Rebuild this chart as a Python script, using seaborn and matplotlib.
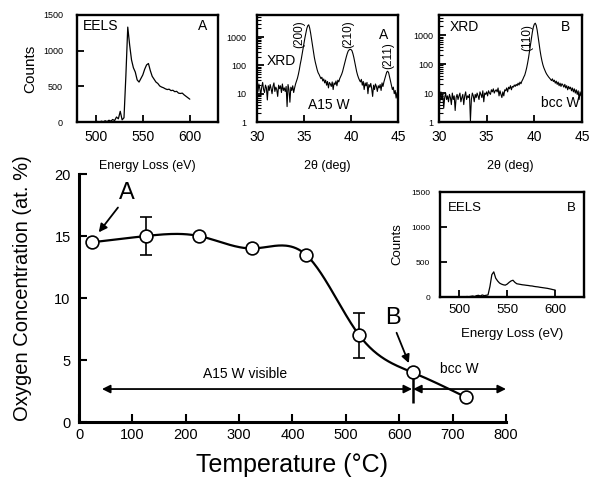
import numpy as np
import pandas as pd
import seaborn as sns
import matplotlib.pyplot as plt
from matplotlib.ticker import NullFormatter

# main plot: oxygen content vs annealing temperature
temps = [25, 125, 225, 325, 425, 525, 625, 725]
oxygen = [14.5, 15.0, 15.0, 14.0, 13.5, 7.0, 4.0, 2.0]
oxygen_err = [0, 1.5, 0, 0, 0, 1.8, 0, 0]

phase_boundary = 625
a15_span = (43, 624)
bcc_span = (626, 800)
arrow_y = 2.66

# EELS spectra (2 eV steps, 480..600 eV)
eels_energy = list(range(480, 602, 2))
eels_a = [0, 0, 0, 0, 0, 0, 0, 0, 0, 0,
          0, 8, 0, 12, 3, 18, 5, 25, 12, 35,
          20, 70, 45, 150, 30, 60, 650, 1330, 1080, 870,
          760, 700, 590, 560, 610, 660, 740, 800, 820, 720,
          640, 600, 560, 540, 505, 490, 480, 465, 455, 460,
          440, 445, 425, 430, 405, 400, 405, 380, 360, 340,
          320]
eels_b = [0, 0, 0, 0, 0, 0, 0, 0, 0, 0,
          0, 0, 5, 0, 8, 5, 10, 15, 8, 20,
          25, 15, 30, 20, 25, 30, 150, 320, 360, 270,
          230, 200, 185, 175, 170, 185, 210, 230, 240, 210,
          190, 185, 180, 175, 172, 168, 165, 160, 158, 152,
          148, 145, 140, 136, 132, 128, 124, 118, 112, 105,
          100]

# XRD patterns (0.1 deg steps, 30..45 deg)
two_theta = np.round(np.linspace(30, 45, 151), 1)
xrd_a = [18, 12, 22, 15, 9, 17, 25, 14, 11, 20,
         16, 6, 19, 13, 21, 15, 10, 18, 24, 12,
         17, 14, 8, 20, 15, 19, 11, 22, 13, 16,
         12, 18, 3.5, 21, 14, 5, 17, 13, 19, 11,
         16, 22, 28, 35, 48, 70, 110, 160, 250, 400,
         620, 950, 1400, 2000, 2500, 2700, 2100, 1400, 850, 500,
         300, 190, 130, 95, 70, 55, 48, 40, 34, 38,
         28, 33, 24, 30, 20, 27, 16, 25, 22, 18,
         26, 14, 24, 21, 28, 19, 30, 26, 34, 40,
         48, 60, 80, 110, 150, 200, 260, 320, 350, 370,
         360, 330, 260, 190, 130, 85, 60, 45, 36, 30,
         26, 32, 20, 27, 14, 24, 19, 25, 10, 21,
         17, 23, 15, 8, 20, 14, 22, 18, 12, 19,
         16, 21, 13, 24, 18, 26, 34, 45, 58, 62,
         55, 40, 28, 20, 14, 17, 10, 13, 7, 11,
         9]
xrd_b = [8, 5, 11, 6, 9, 3, 7, 10, 6, 8,
         5, 9, 7, 4, 10, 6, 8, 2.5, 7, 9,
         6, 8, 10, 5, 7, 9, 4, 8, 11, 6,
         8, 7, 9, 1.1, 6, 10, 8, 5, 9, 7,
         10, 8, 6, 11, 9, 7, 12, 5, 10, 9,
         11, 8, 12, 10, 9, 13, 11, 14, 10, 12,
         13, 11, 15, 8, 12, 9, 7, 11, 8, 13,
         12, 15, 11, 16, 14, 18, 13, 17, 16, 19,
         17, 20, 18, 22, 19, 24, 21, 26, 30, 36,
         42, 55, 75, 110, 170, 280, 480, 800, 1300, 1900,
         2400, 2600, 2200, 1500, 900, 520, 300, 190, 130, 95,
         75, 62, 52, 45, 40, 36, 33, 30, 27, 31,
         25, 28, 22, 26, 20, 24, 18, 22, 17, 21,
         19, 16, 20, 15, 18, 13, 17, 14, 16, 12,
         15, 11, 14, 10, 13, 9, 12, 6, 11, 8,
         10]


def natural_spline(x, y, xs):
    x = np.asarray(x, float)
    y = np.asarray(y, float)
    n = len(x)
    h = np.diff(x)
    A = np.zeros((n, n))
    b = np.zeros(n)
    A[0, 0] = A[-1, -1] = 1
    for i in range(1, n - 1):
        A[i, i - 1] = h[i - 1]
        A[i, i] = 2 * (h[i - 1] + h[i])
        A[i, i + 1] = h[i]
        b[i] = 3 * ((y[i + 1] - y[i]) / h[i] - (y[i] - y[i - 1]) / h[i - 1])
    c = np.linalg.solve(A, b)
    bb = (y[1:] - y[:-1]) / h - h * (2 * c[:-1] + c[1:]) / 3
    d = (c[1:] - c[:-1]) / (3 * h)
    idx = np.clip(np.searchsorted(x, xs) - 1, 0, n - 2)
    dx = xs - x[idx]
    return y[idx] + bb[idx] * dx + c[idx] * dx ** 2 + d[idx] * dx ** 3


sns.set_style("ticks", {"xtick.direction": "in", "ytick.direction": "in"})
plt.rcParams['font.family'] = ['Liberation Sans', 'DejaVu Sans']
plt.rcParams.update({'axes.linewidth': 1.6, 'text.color': 'black', 'axes.labelcolor': 'black',
                     'xtick.color': 'black', 'ytick.color': 'black', 'axes.edgecolor': 'black'})

fig = plt.figure(figsize=(5.9, 4.91), dpi=100)


def style_box(ax, ylab_size=6.5):
    for s in ax.spines.values():
        s.set_linewidth(1.7)
        s.set_color('black')
    ax.tick_params(axis='x', which='major', length=5, width=1.3, labelsize=10, pad=6)
    ax.tick_params(axis='y', which='major', length=5, width=1.3, labelsize=ylab_size)
    ax.tick_params(axis='y', which='minor', length=3, width=0.8)


# ---- top left: EELS A
ax1 = fig.add_axes([0.1305, 0.7515, 0.239, 0.218])
sns.lineplot(x=eels_energy, y=eels_a, ax=ax1, color='black', linewidth=0.9)
ax1.set_xlim(480, 630)
ax1.set_ylim(0, 1500)
ax1.set_xticks([500, 550, 600])
ax1.set_yticks([0, 500, 1000, 1500])
style_box(ax1)
ax1.tick_params(axis='y', pad=10)
ax1.set_xlabel("Energy Loss (eV)", fontsize=9, labelpad=11)
ax1.set_ylabel("Counts", fontsize=11, labelpad=4)
ax1.text(0.04, 0.9, "EELS", transform=ax1.transAxes, fontsize=10, va='center')
ax1.text(0.92, 0.9, "A", transform=ax1.transAxes, fontsize=10, va='center', ha='right')

# ---- top middle: XRD A
ax2 = fig.add_axes([0.4356, 0.7515, 0.239, 0.218])
sns.lineplot(x=two_theta, y=xrd_a, ax=ax2, color='black', linewidth=0.8)
ax2.set_yscale('log')
ax2.set_xlim(30, 45)
ax2.set_ylim(1, 6000)
ax2.set_xticks([30, 35, 40, 45])
ax2.set_yticks([1, 10, 100, 1000])
ax2.set_yticklabels(['1', '10', '100', '1000'])
ax2.yaxis.set_minor_formatter(NullFormatter())
style_box(ax2)
ax2.tick_params(axis='y', pad=8)
ax2.set_xlabel("2θ (deg)", fontsize=9, labelpad=11)
ax2.set_ylabel("")
ax2.text(0.07, 0.57, "XRD", transform=ax2.transAxes, fontsize=10, va='center')
ax2.text(0.93, 0.81, "A", transform=ax2.transAxes, fontsize=10, va='center', ha='right')
ax2.text(0.51, 0.16, "A15 W", transform=ax2.transAxes, fontsize=10, va='center', ha='center')
for lab, pos, yy in [("(200)", 34.5, 0.82), ("(210)", 39.7, 0.82), ("(211)", 44.0, 0.62)]:
    ax2.text(pos, yy, lab, transform=ax2.get_xaxis_transform(), rotation=90,
             fontsize=8.5, ha='center', va='center')

# ---- top right: XRD B
ax3 = fig.add_axes([0.744, 0.7515, 0.2424, 0.218])
sns.lineplot(x=two_theta, y=xrd_b, ax=ax3, color='black', linewidth=0.8)
ax3.set_yscale('log')
ax3.set_xlim(30, 45)
ax3.set_ylim(1, 5000)
ax3.set_xticks([30, 35, 40, 45])
ax3.set_yticks([1, 10, 100, 1000])
ax3.set_yticklabels(['1', '10', '100', '1000'])
ax3.yaxis.set_minor_formatter(NullFormatter())
style_box(ax3)
ax3.tick_params(axis='y', pad=4)
ax3.set_xlabel("2θ (deg)", fontsize=9, labelpad=11)
ax3.set_ylabel("")
ax3.text(0.077, 0.89, "XRD", transform=ax3.transAxes, fontsize=10, va='center')
ax3.text(0.916, 0.89, "B", transform=ax3.transAxes, fontsize=10, va='center', ha='right')
ax3.text(0.85, 0.18, "bcc W", transform=ax3.transAxes, fontsize=10, va='center', ha='center')
ax3.text(39.3, 0.79, "(110)", transform=ax3.get_xaxis_transform(), rotation=90,
         fontsize=8.5, ha='center', va='center')

# ---- main plot
ax = fig.add_axes([0.1339, 0.1405, 0.7237, 0.505])
curve_t = np.linspace(temps[0], temps[-1], 300)
curve = pd.DataFrame({"t": curve_t, "o": natural_spline(temps, oxygen, curve_t)})
sns.lineplot(data=curve, x="t", y="o", ax=ax, color='black', linewidth=1.6, zorder=2)
mask = np.array(oxygen_err) > 0
ax.errorbar(np.array(temps)[mask], np.array(oxygen)[mask], yerr=np.array(oxygen_err)[mask],
            fmt='none', ecolor='black', elinewidth=1.2, capsize=4, capthick=1.2, zorder=2)
sns.scatterplot(x=temps, y=oxygen, ax=ax, s=85, color='white', edgecolor='black',
                linewidth=1.2, zorder=3)
ax.set_xlim(0, 800)
ax.set_ylim(0, 20)
ax.set_xticks(range(0, 801, 100))
ax.set_yticks([0, 5, 10, 15, 20])
sns.despine(ax=ax)
for s in ['left', 'bottom']:
    ax.spines[s].set_linewidth(2.2)
    ax.spines[s].set_color('black')
ax.tick_params(axis='both', length=6, width=1.5, labelsize=10.5)
ax.tick_params(axis='x', pad=4)
ax.tick_params(axis='y', pad=6)
ax.set_xlabel("Temperature (°C)", fontsize=18, labelpad=8)
ax.set_ylabel("Oxygen Concentration (at. %)", fontsize=14.5)
ax.yaxis.set_label_coords(-0.11, 0.54)

head = dict(arrowstyle='-|>', color='black', lw=1.3, mutation_scale=12, shrinkA=0, shrinkB=0)
ax.text(90, 18.5, "A", fontsize=17, ha='center', va='center')
ax.annotate("", xy=(37, 15.3), xytext=(73, 17.3), arrowprops=head)
ax.text(588, 8.4, "B", fontsize=17, ha='center', va='center')
ax.annotate("", xy=(618, 4.75), xytext=(595, 7.2), arrowprops=head)

both = dict(arrowstyle='<|-|>', color='black', lw=1.3, mutation_scale=12, shrinkA=0, shrinkB=0)
ax.annotate("", xy=(a15_span[0], arrow_y), xytext=(a15_span[1], arrow_y), arrowprops=both)
ax.annotate("", xy=(bcc_span[1], arrow_y), xytext=(bcc_span[0], arrow_y), arrowprops=both,
            annotation_clip=False)
ax.vlines(phase_boundary, 1.5, 4.4, color='black', lw=1.8)
ax.text(311, 3.85, "A15 W visible", fontsize=10, ha='center', va='center')
ax.text(713, 4.25, "bcc W", fontsize=10, ha='center', va='center')

# ---- inset: EELS B
axi = fig.add_axes([0.7458, 0.395, 0.244, 0.2139])
axi.set_facecolor('white')
sns.lineplot(x=eels_energy, y=eels_b, ax=axi, color='black', linewidth=0.9)
axi.set_xlim(480, 630)
axi.set_ylim(0, 1500)
axi.set_xticks([500, 550, 600])
axi.set_yticks([0, 500, 1000, 1500])
style_box(axi, ylab_size=6)
axi.tick_params(axis='x', labelsize=9.5, pad=5)
axi.tick_params(axis='y', pad=7)
axi.set_xlabel("Energy Loss (eV)", fontsize=9.5, labelpad=9)
axi.set_ylabel("Counts", fontsize=9.5, labelpad=6)
axi.text(0.055, 0.85, "EELS", transform=axi.transAxes, fontsize=9.5, va='center')
axi.text(0.94, 0.85, "B", transform=axi.transAxes, fontsize=9.5, va='center', ha='right')

fig.savefig("out.png", dpi=100)
